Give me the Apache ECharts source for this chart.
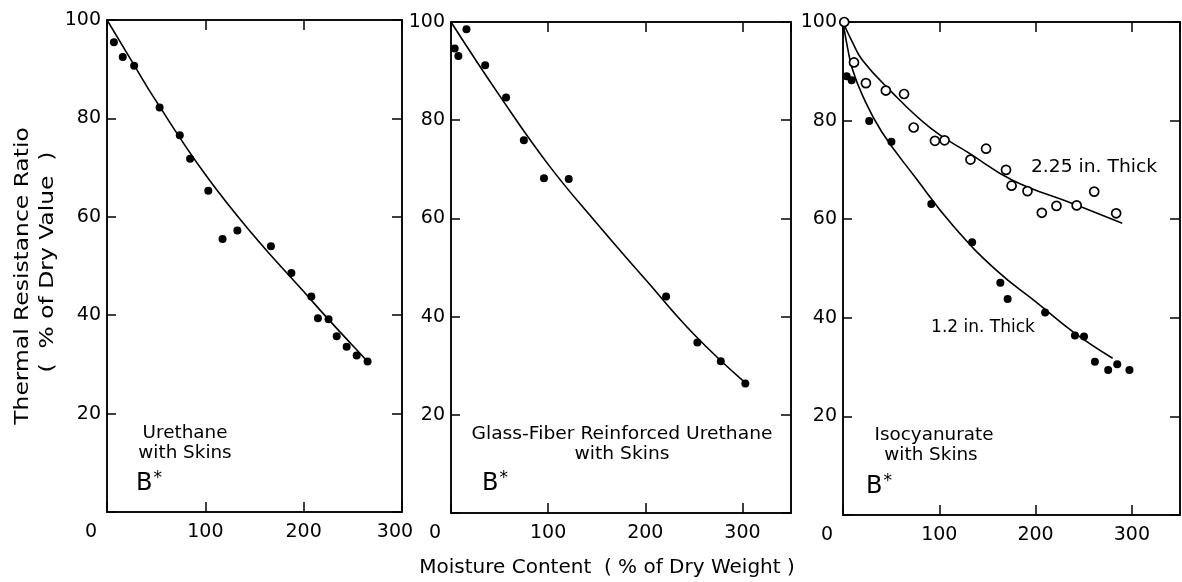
<!DOCTYPE html>
<html>
<head>
<meta charset="utf-8">
<script src="https://cdn.jsdelivr.net/npm/echarts@6/dist/echarts.min.js"></script>
<style>
html,body{margin:0;padding:0;background:#fff;}
#chart{width:1182px;height:582px;}
</style>
</head>
<body>
<div id="chart"></div>
<script>
// ---- data ----
const xTickValues = [0, 100, 200, 300];
const yTickValues = [0, 20, 40, 60, 80, 100];

// Panel 1: Urethane with Skins
const p1Points = [[7,95.5],[16,92.5],[27.6,90.7],[53.5,82.2],[74,76.6],[84.5,71.8],[103,65.3],[117.5,55.5],[132.6,57.2],[166.7,54],[187.5,48.6],[207.8,43.8],[214.5,39.4],[225.3,39.2],[233.6,35.7],[243.7,33.6],[253.9,31.8],[265,30.6]];
const p1Curve = [[0,100],[25,91.7],[50,83.5],[100,68.6],[150,56],[200,44.8],[225,39.2],[250,33.8],[265,30.6]];

// Panel 2: Glass-Fiber Reinforced Urethane with Skins
const p2Points = [[3.8,94.6],[7.6,93.1],[15.9,98.5],[35.2,91.2],[56.7,84.6],[75,75.9],[95.7,68.2],[121.2,68],[221.4,44.1],[253.6,34.7],[277.7,30.9],[303,26.4]];
const p2Curve = [[0,100],[50,85],[100,71],[150,59],[200,47.6],[250,36.4],[303,26.5]];

// Panel 3: Isocyanurate with Skins
const p3Open = [[1.3,100],[11.4,91.8],[23.8,87.6],[44.5,86.1],[63.4,85.4],[73.4,78.6],[95.5,75.9],[105.5,76.0],[132.4,72.1],[148.6,74.3],[169.3,70.0],[175.1,66.8],[191.6,65.7],[206.5,61.3],[221.7,62.7],[242.7,62.8],[260.9,65.6],[283.7,61.2]];
const p3OpenCurve = [[0,100],[10,95.8],[20,92.3],[46.5,86.6],[91.3,78.4],[131,73.4],[176,67.9],[238,63.2],[290,59.2]];
const p3Filled = [[3.8,89],[9,88.2],[27.2,79.9],[50.3,75.7],[91.7,63.1],[134.1,55.3],[163.4,47.1],[171,43.8],[209.9,41.1],[240.9,36.4],[250.3,36.2],[261.6,31.1],[275.4,29.4],[284.8,30.6],[297.5,29.4]];
const p3FilledCurve = [[0,100],[5,94.5],[10,90.3],[20,85.2],[40,77.8],[75,68.5],[115,58.5],[160,49.5],[200,43.3],[240,37],[280,31.8]];

const xMaxes = [300, 350, 350];

// ---- chart ----
const FONT = 'DejaVu Sans';
const grids = [
  {left: 107, top: 20, width: 295, height: 492},
  {left: 451, top: 22, width: 340, height: 491},
  {left: 843, top: 22, width: 337, height: 493}
].map(g => Object.assign({show: true, borderColor: '#000', borderWidth: 1.5, backgroundColor: 'transparent'}, g));

const xAxes = [], yAxes = [];
for (let i = 0; i < 3; i++) {
  xAxes.push({
    gridIndex: i, type: 'value', min: 0, max: xMaxes[i], interval: 100, position: 'bottom',
    axisLine: {show: true, onZero: false, lineStyle: {color: '#000', width: 1.5}},
    axisTick: {show: true, inside: true, length: 10, lineStyle: {color: '#000', width: 1.5}},
    splitLine: {show: false},
    axisLabel: {
      color: '#000', fontFamily: FONT, fontSize: 19, margin: 11, showMaxLabel: i === 0,
      formatter: function (v) {
        if (v === 0) return '{z|0}';
        if (xTickValues.indexOf(v) < 0) return '';
        if (i === 0 && v === 300) return '{m|300}';
        return String(v);
      },
      rich: {
        z: {fontFamily: FONT, fontSize: 19, color: '#000', padding: [0, 32, 0, 0]},
        m: {fontFamily: FONT, fontSize: 19, color: '#000', padding: [0, 14, 0, 0]}
      }
    }
  });
  yAxes.push({
    gridIndex: i, type: 'value', min: 0, max: 100, interval: 20, position: 'left',
    axisLine: {show: true, onZero: false, lineStyle: {color: '#000', width: 1.5}},
    axisTick: {show: true, inside: true, length: 9, lineStyle: {color: '#000', width: 1.5}},
    splitLine: {show: false},
    axisLabel: {
      color: '#000', fontFamily: FONT, fontSize: 19, margin: 6,
      formatter: v => (v === 0 || yTickValues.indexOf(v) < 0) ? '' : String(v)
    }
  });
}
for (let i = 0; i < 3; i++) {
  xAxes.push({
    gridIndex: i, type: 'value', min: 0, max: xMaxes[i], interval: 100, position: 'top',
    axisLine: {show: true, onZero: false, lineStyle: {color: '#000', width: 1.5}},
    axisTick: {show: true, inside: true, length: 10, lineStyle: {color: '#000', width: 1.5}},
    axisLabel: {show: false}, splitLine: {show: false}
  });
  yAxes.push({
    gridIndex: i, type: 'value', min: 0, max: 100, interval: 20, position: 'right',
    axisLine: {show: true, onZero: false, lineStyle: {color: '#000', width: 1.5}},
    axisTick: {show: true, inside: true, length: 10, lineStyle: {color: '#000', width: 1.5}},
    axisLabel: {show: false}, splitLine: {show: false}
  });
}

function curve(idx, data) {
  return {type: 'line', xAxisIndex: idx, yAxisIndex: idx, data: data, smooth: 0.45,
    showSymbol: false, symbol: 'none', silent: true, animation: false,
    lineStyle: {color: '#000', width: 1.6}, z: 2};
}
function dots(idx, data, open) {
  return {type: 'scatter', xAxisIndex: idx, yAxisIndex: idx, data: data,
    symbol: 'circle', symbolSize: open ? 9 : 8, animation: false,
    itemStyle: open ? {color: '#ffffff', borderColor: '#000000', borderWidth: 1.7, opacity: 1}
                    : {color: '#000000', opacity: 1}, z: 3};
}

function txt(x, y, text, size, extra) {
  return Object.assign({type: 'text', x: x, y: y, silent: true,
    style: {text: text, fill: '#000', font: (size || 18) + 'px "' + FONT + '"', textAlign: 'center', textVerticalAlign: 'middle'}}, extra || {});
}
function bstar(x, y) {
  return {type: 'text', x: x, y: y, silent: true,
    style: {text: '{b|B}{s|*}', textAlign: 'left', textVerticalAlign: 'middle',
      rich: {b: {fontFamily: FONT, fontSize: 24, color: '#000'},
             s: {fontFamily: FONT, fontSize: 17, color: '#000', verticalAlign: 'top', padding: [0, 0, 10, 1]}}}};
}

const option = {
  animation: false,
  backgroundColor: '#fff',
  grid: grids,
  xAxis: xAxes,
  yAxis: yAxes,
  series: [
    curve(0, p1Curve), dots(0, p1Points, false),
    curve(1, p2Curve), dots(1, p2Points, false),
    curve(2, p3OpenCurve), curve(2, p3FilledCurve),
    dots(2, p3Open, true), dots(2, p3Filled, false)
  ],
  graphic: [
    txt(23, 276, 'Thermal Resistance Ratio', 20, {rotation: Math.PI / 2, scaleX: 1.17}),
    txt(48, 262, '(  % of Dry Value  )', 20, {rotation: Math.PI / 2, scaleX: 1.17}),
    txt(607, 568, 'Moisture Content  ( % of Dry Weight )', 20),
    txt(185, 434, 'Urethane', 17, {scaleX: 1.08}),
    txt(185, 454, 'with Skins', 17, {scaleX: 1.08}),
    bstar(136, 484),
    txt(622, 435, 'Glass-Fiber Reinforced Urethane', 17, {scaleX: 1.1}),
    txt(622, 455, 'with Skins', 17, {scaleX: 1.1}),
    bstar(482, 484),
    txt(934, 436, 'Isocyanurate', 17, {scaleX: 1.08}),
    txt(931, 456, 'with Skins', 17, {scaleX: 1.08}),
    bstar(866, 487),
    txt(1094, 168, '2.25 in. Thick', 17, {scaleX: 1.1}),
    txt(983, 328, '1.2 in. Thick', 17)
  ]
};

const chart = echarts.init(document.getElementById('chart'), null, {renderer: 'canvas'});
chart.setOption(option);
</script>
</body>
</html>
